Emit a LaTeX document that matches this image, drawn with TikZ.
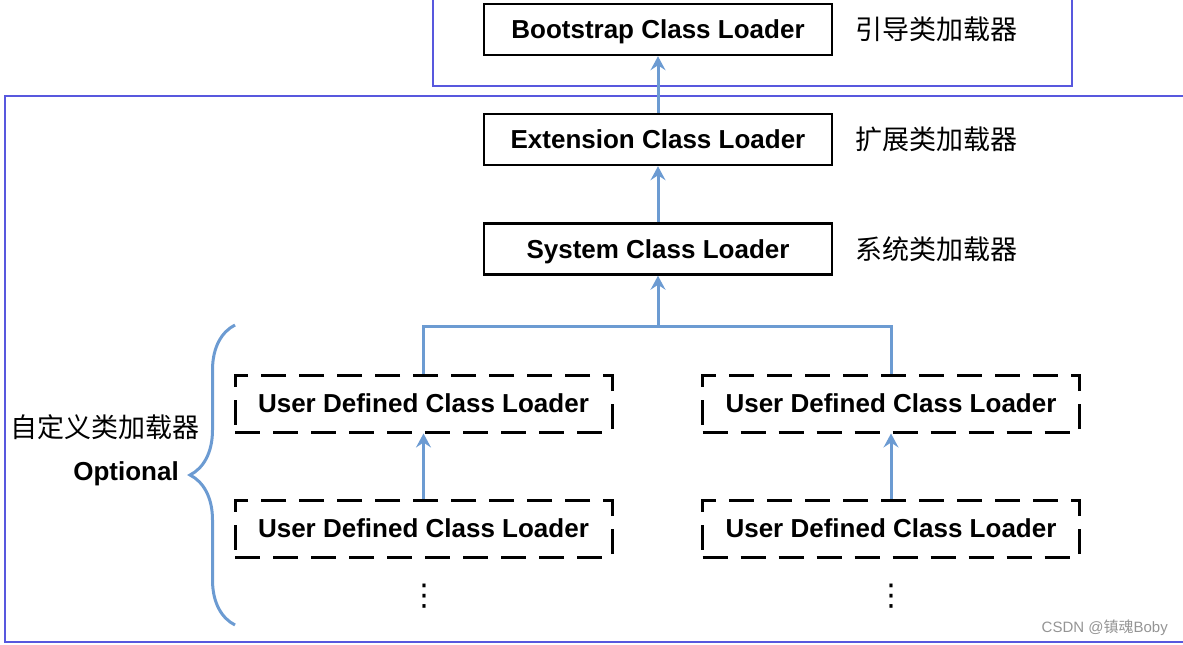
\documentclass[tikz,border=0pt]{standalone}
\usepackage{fontspec}
\setmainfont{Liberation Sans}
\newfontfamily\cjk{Noto Sans CJK SC}
\newfontfamily\sym{DejaVu Sans}
\usetikzlibrary{arrows.meta,positioning,decorations.pathreplacing}
\definecolor{frame_blue}{RGB}{88, 88, 222}
\definecolor{link_blue}{RGB}{108, 155, 210}
\tikzstyle{ldr}=[rectangle,draw=black,fill=white,line width=2.5pt,
  minimum width=348pt,minimum height=51pt,inner sep=0pt,
  text height=18.6pt,text depth=0pt,
  font=\fontsize{26}{30}\selectfont\bfseries]
\tikzstyle{ud}=[rectangle,draw=black,line width=3pt,dash pattern=on 25pt off 13pt,
  minimum width=377pt,minimum height=57pt,inner sep=0pt,
  text height=18.6pt,text depth=0pt,
  font=\fontsize{26}{30}\selectfont\bfseries]
\tikzstyle{cn}=[inner sep=0pt,font=\fontsize{27}{30}\selectfont\cjk]
\tikzstyle{link}=[draw=link_blue,line width=3pt]
\tikzstyle{up}=[link,-{Stealth[length=14pt,width=15pt,inset=5pt]}]

\begin{document}
\begin{tikzpicture}[x=1pt,y=-1pt]
    \clip (0,0) rectangle (1183,645);
    \draw[frame_blue,line width=2pt] (433,-10) rectangle (1072,86);
    \draw[frame_blue,line width=2pt] (5,96) rectangle (1200,642);
    \node [style=ldr] (boot) at (658,29.5) {Bootstrap Class Loader};
    \node [style=ldr] (ext) at (658,139.5) {Extension Class Loader};
    \node [style=ldr] (sys) at (658,249) {System Class Loader};
    \node [style=cn,right=22pt of boot] (bootcn) {引导类加载器};
    \node [style=cn,right=22pt of ext] (extcn) {扩展类加载器};
    \node [style=cn,right=22pt of sys] (syscn) {系统类加载器};
    \node [style=ud] (u1) at (423.5,403.5) {User Defined Class Loader};
    \node [style=ud] (u2) at (891,403.5) {User Defined Class Loader};
    \node [style=ud] (u3) at (423.5,528.5) {User Defined Class Loader};
    \node [style=ud] (u4) at (891,528.5) {User Defined Class Loader};
    \node (d1) at (424,596) {\fontsize{30}{30}\selectfont\sym ⋮};
    \node (d2) at (891,596) {\fontsize{30}{30}\selectfont\sym ⋮};
    \coordinate (bus) at (658,326);
    \draw [style=up] (ext) to (boot);
    \draw [style=up] (sys) to (ext);
    \draw [style=up] (bus) to (sys);
    \draw [style=link] (u1.north) |- (bus) -| (u2.north);
    \draw [style=up] (u3) to (u1);
    \draw [style=up] (u4) to (u2);
    \draw [style=link,decorate,decoration={brace,amplitude=45pt,aspect=0.5}]
      (235,625) -- (235,325);
    \node [style=cn] (own) at (105,427) {自定义类加载器};
    \node [font=\fontsize{26}{30}\selectfont\bfseries,inner sep=0pt] (opt) at (126,474) {Optional};
    \node [anchor=east,text=black!42,inner sep=0pt,font=\fontsize{15}{18}\selectfont] (mark)
      at (1168,628) {CSDN @{\cjk 镇魂}Boby};
\end{tikzpicture}
\end{document}
